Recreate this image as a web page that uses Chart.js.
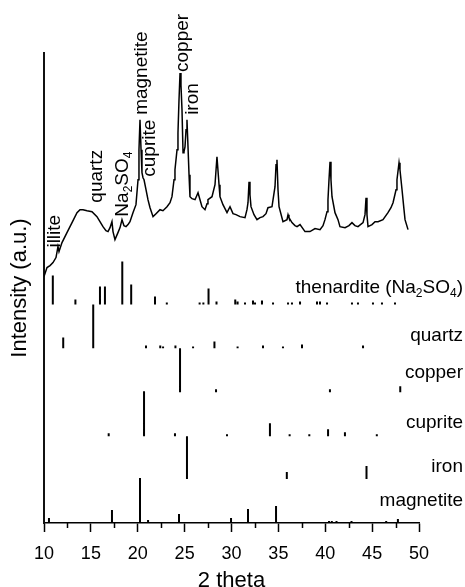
<!DOCTYPE html>
<html>
<head>
<meta charset="utf-8">
<script src="https://cdn.jsdelivr.net/npm/chart.js@4.4.1/dist/chart.umd.min.js"></script>
<style>
  html, body { margin: 0; padding: 0; background: #fff; }
  canvas { display: block; }
</style>
</head>
<body>
<canvas id="c" width="465" height="587" style="width:465px;height:587px"></canvas>
<script>
// ---------- DATA ----------
// measured XRD pattern
const twoTheta = [10.00,10.32,10.64,10.96,11.28,11.49,11.60,11.92,12.45,12.99,13.52,13.84,14.16,14.59,15.12,15.65,15.97,16.29,16.61,16.83,17.04,17.25,17.36,17.57,17.89,18.11,18.32,18.53,18.75,18.96,19.17,19.49,19.81,20.03,20.13,20.24,20.35,20.45,20.56,20.67,20.88,21.09,21.31,21.63,21.95,22.37,22.69,23.12,23.44,23.65,23.87,23.97,24.19,24.29,24.40,24.51,24.61,24.72,24.83,24.93,25.04,25.15,25.25,25.36,25.47,25.57,25.79,26.11,26.43,26.64,26.85,27.17,27.39,27.49,27.92,28.24,28.45,28.67,28.77,29.09,29.52,29.84,30.16,30.48,30.91,31.44,31.65,31.76,31.87,31.97,32.08,32.40,32.72,33.04,33.36,33.68,33.89,34.32,34.64,34.75,34.85,34.96,35.07,35.49,35.92,36.03,36.13,36.45,36.77,36.99,37.31,37.84,38.37,38.91,39.44,39.76,39.97,40.19,40.29,40.40,40.51,40.61,40.72,41.04,41.36,41.57,42.11,42.53,42.85,43.17,43.49,44.03,44.24,44.35,44.45,44.56,44.99,45.31,45.63,46.16,46.69,47.01,47.23,47.55,47.65,47.87,47.97,48.19,48.40,48.51,48.83];
const intensity = [247,256,258,261,266,277,272,281,291,301,311,314,314,313,312,307,302,297,293,292,296,302,292,284,291,296,304,298,297,299,302,311,319,344,374,404,374,351,346,344,334,324,316,307,310,314,313,317,321,327,344,354,374,391,424,451,439,414,371,372,377,394,404,377,349,327,325,324,331,324,317,314,320,324,327,339,367,339,327,319,311,317,310,309,307,306,314,321,342,329,317,309,304,306,307,310,316,317,337,359,364,334,317,302,304,309,306,301,298,297,299,292,292,295,294,298,304,312,324,344,362,344,327,311,304,297,296,298,301,298,297,301,309,326,309,297,299,302,302,304,311,316,321,334,344,361,354,334,314,304,294];

// reference stick patterns (2 theta, relative intensity) and the offset of each row
const thenarditePos = [10.94,13.35,15.97,16.50,18.35,19.30,21.84,23.10,26.60,27.00,27.55,28.40,30.40,30.65,31.44,32.29,32.51,33.25,34.43,36.03,36.45,37.31,39.12,39.44,40.19,42.85,43.49,45.09,46.05,47.44];
const thenarditeInt = [29,5,18,18,43,20,8,2,2,2,16,3,5,3,2,4,2,4,2,2,2,3,3,3,2,2,2,2,2,2];
const quartzPos = [12.05,15.25,20.88,22.40,22.70,24.02,25.90,28.18,30.65,33.36,35.49,37.52,44.03];
const quartzInt = [11,44,3,3,2,3,2,7,2,3,2,4,3];
const copperPos = [24.51,28.35,40.50,48.00];
const copperInt = [44,3,3,6];
const cupritePos = [16.90,20.67,23.97,29.52,34.10,36.20,38.30,40.30,42.10,45.50];
const cupriteInt = [3,45,3,2,13,2,2,7,4,2];
const ironPos = [25.25,35.90,44.40];
const ironInt = [43,7,13];
const magnetitePos = [10.53,17.25,20.24,21.10,24.40,29.95,31.76,34.75,39.10,40.40,40.70,41.20,42.80,46.50,47.75];
const magnetiteInt = [5,13,45,3,9,5,14,17,1,2,2,2,2,2,4];
const phaseNames = ['thenardite (Na_2SO_4)','quartz','copper','cuprite','iron','magnetite'];
const phaseOffsets = [219,175,131,87,44,0];
const phaseLabelLevels = [236,188,151,100,56,22];

// peak assignments on the measured pattern
const peakNames = ['illite','quartz','Na_2SO_4','magnetite','cuprite','copper','iron'];
const peakAngles = [11.20,15.65,18.43,20.45,21.30,24.83,25.90];
const peakLabelLevels = [276,321,307,409,347,452,409];

// axis ticks
const xMin = 10, xMax = 50, xMajorStep = 5, xMinorStep = 2.5;
const yMin = 0, yMax = 471;

// ---------- BUILD ----------
const FAMILY = "'Liberation Sans', Arial, Helvetica, sans-serif";
const phasePos = [thenarditePos, quartzPos, copperPos, cupritePos, ironPos, magnetitePos];
const phaseInt = [thenarditeInt, quartzInt, copperInt, cupriteInt, ironInt, magnetiteInt];

function stickData(pos, ints, base) {
  const d = [];
  pos.forEach((p, i) => {
    d.push({x: p, y: base});
    d.push({x: p, y: base + ints[i]});
    d.push({x: p, y: null});
  });
  return d;
}

const datasets = [{
  data: twoTheta.map((t, i) => ({x: t, y: intensity[i]})),
  borderColor: '#000', borderWidth: 1.5, pointRadius: 0, tension: 0, fill: false
}];
phasePos.forEach((pos, k) => {
  datasets.push({
    data: stickData(pos, phaseInt[k], phaseOffsets[k]),
    borderColor: '#000', borderWidth: 2, borderCapStyle: 'butt',
    pointRadius: 0, spanGaps: false, tension: 0, fill: false
  });
});

function drawRich(ctx, text, x, y, size, align) {
  const segs = [];
  let i = 0;
  while (i < text.length) {
    if (text[i] === '_') { segs.push({t: text[i + 1], sub: true}); i += 2; }
    else {
      let j = i;
      while (j < text.length && text[j] !== '_') j++;
      segs.push({t: text.slice(i, j), sub: false});
      i = j;
    }
  }
  const mainFont = size + 'px ' + FAMILY;
  const subFont = Math.round(size * 0.62) + 'px ' + FAMILY;
  let total = 0;
  segs.forEach(s => { ctx.font = s.sub ? subFont : mainFont; s.w = ctx.measureText(s.t).width; total += s.w; });
  let cx = align === 'right' ? x - total : x;
  ctx.textAlign = 'left';
  ctx.textBaseline = 'middle';
  segs.forEach(s => {
    ctx.font = s.sub ? subFont : mainFont;
    ctx.fillText(s.t, cx, s.sub ? y + size * 0.3 : y);
    cx += s.w;
  });
}

const annotations = {
  id: 'annotations',
  afterDraw(chart) {
    const ctx = chart.ctx;
    const xs = chart.scales.x, ys = chart.scales.y;
    ctx.save();
    ctx.fillStyle = '#000';
    // minor ticks
    ctx.strokeStyle = '#000';
    ctx.lineWidth = 1.5;
    const bottom = chart.chartArea.bottom;
    for (let v = xMin + xMinorStep; v < xMax; v += xMajorStep) {
      const px = Math.round(xs.getPixelForValue(v)) + 0.5;
      ctx.beginPath(); ctx.moveTo(px, bottom); ctx.lineTo(px, bottom + 5); ctx.stroke();
    }
    // phase labels on the right
    const rightEdge = chart.width - 2;
    phaseNames.forEach((n, k) => {
      drawRich(ctx, n, rightEdge, ys.getPixelForValue(phaseLabelLevels[k]), 19, 'right');
    });
    // rotated peak labels
    peakNames.forEach((n, k) => {
      ctx.save();
      ctx.translate(xs.getPixelForValue(peakAngles[k]), ys.getPixelForValue(peakLabelLevels[k]));
      ctx.rotate(-Math.PI / 2);
      drawRich(ctx, n, 0, 0, 19, 'left');
      ctx.restore();
    });
    ctx.restore();
  }
};

new Chart(document.getElementById('c'), {
  type: 'line',
  data: {datasets},
  options: {
    responsive: false,
    animation: false,
    devicePixelRatio: 1,
    layout: {padding: {top: 53, right: 46, left: 0, bottom: 0}},
    plugins: {legend: {display: false}, tooltip: {enabled: false}},
    scales: {
      x: {
        type: 'linear', min: xMin, max: xMax, position: 'bottom',
        ticks: {stepSize: xMajorStep, color: '#000', font: {family: FAMILY, size: 18}, padding: 11, maxRotation: 0, autoSkip: false},
        grid: {drawOnChartArea: false, drawTicks: true, tickLength: 9, tickColor: '#000', tickWidth: 1.5},
        border: {display: true, color: '#000', width: 1.5},
        title: {display: true, text: '2 theta', color: '#000', font: {family: FAMILY, size: 22, lineHeight: 1}, padding: {top: 0, bottom: -5}},
        afterFit: s => { s.height = 64; }
      },
      y: {
        type: 'linear', min: yMin, max: yMax,
        ticks: {display: false},
        grid: {display: false, drawTicks: false},
        border: {display: true, color: '#111', width: 2},
        title: {display: true, text: 'Intensity (a.u.)', color: '#000', font: {family: FAMILY, size: 22, lineHeight: 1}, padding: {top: 9, bottom: 0}},
        afterFit: s => { s.width = 44; }
      }
    }
  },
  plugins: [annotations]
});
</script>
</body>
</html>
